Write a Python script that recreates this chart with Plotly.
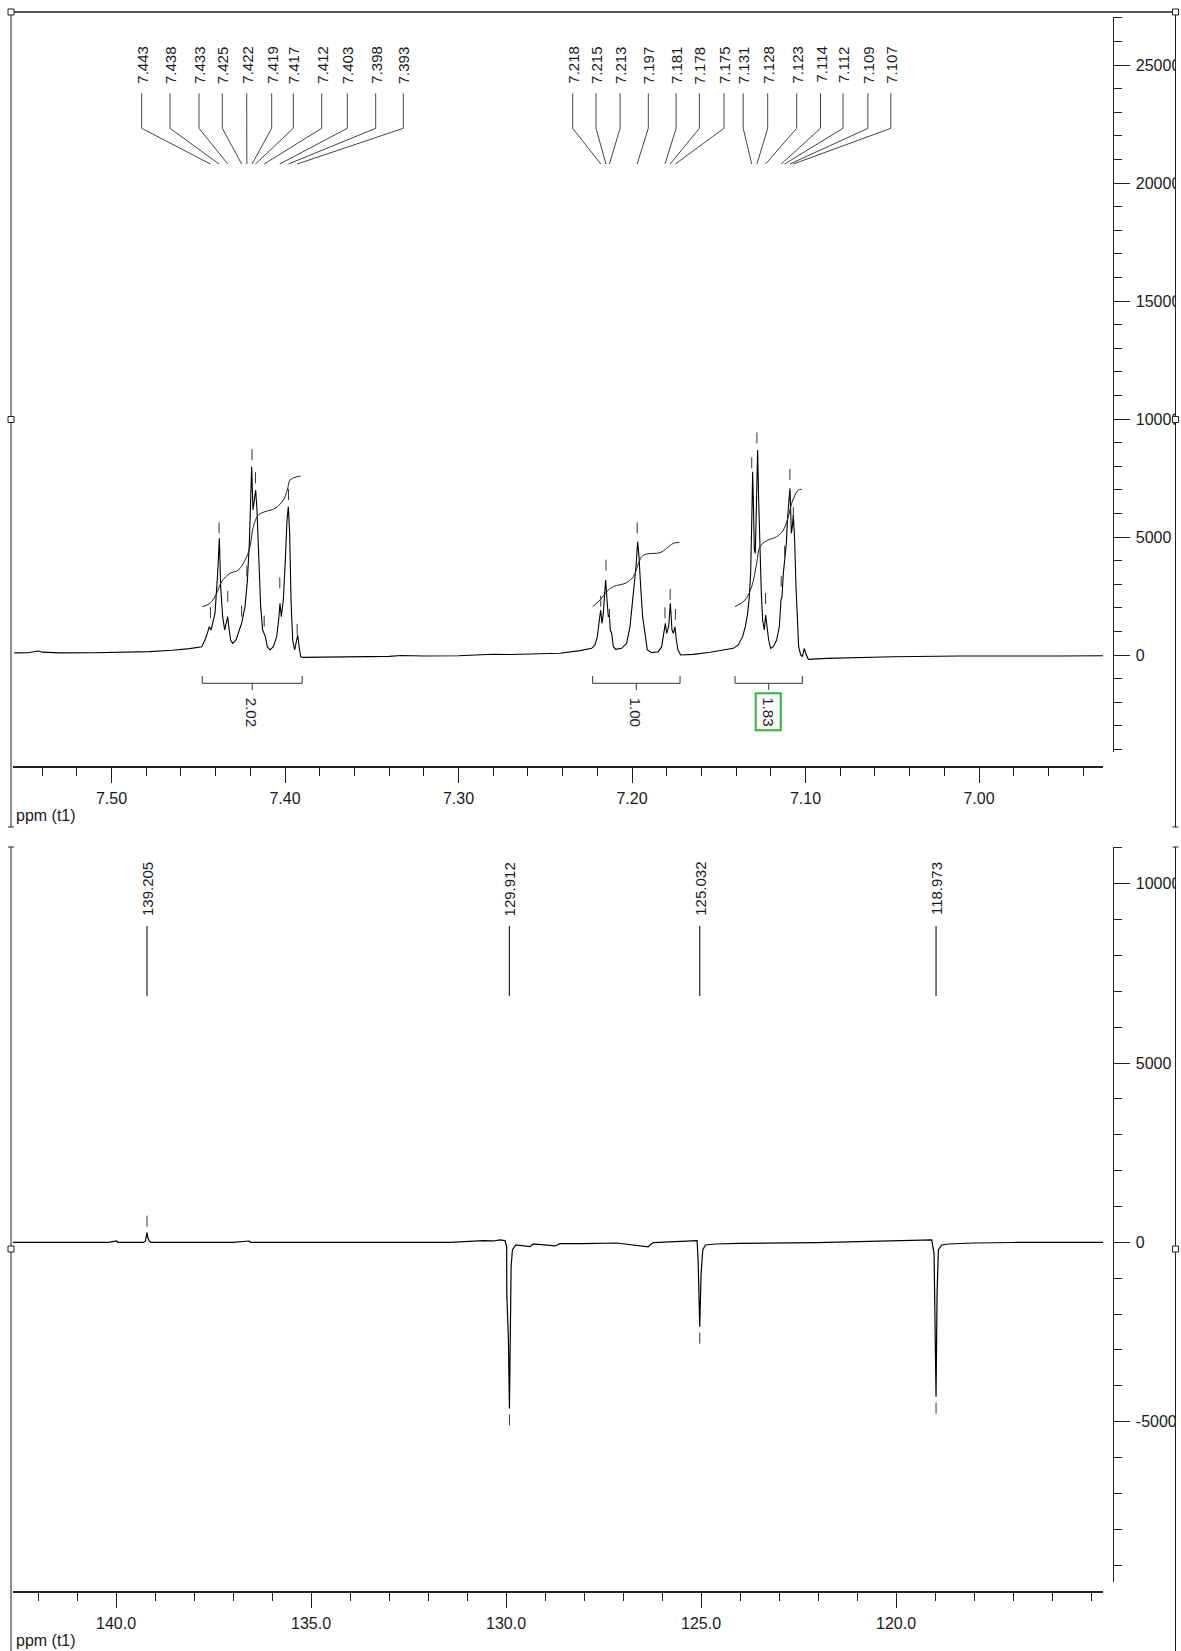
import plotly.graph_objects as go

W, H = 1181, 1651

# ------------------------------------------------------------------ data
# 1H spectrum (ppm, intensity)
h1_ppm = [7.5560, 7.5480, 7.5440, 7.5420, 7.5400, 7.5300, 7.5100, 7.4900, 7.4778, 7.4650, 7.4550, 7.4480,
          7.44611, 7.44477, 7.44361, 7.44265, 7.44035, 7.43881, 7.43785, 7.43708, 7.43593, 7.43478, 7.43362,
          7.43305, 7.43228, 7.43132, 7.43016, 7.42824, 7.42632, 7.42498, 7.42306, 7.42171, 7.42056, 7.41979,
          7.41921, 7.41845, 7.41768, 7.41691, 7.41614, 7.41518, 7.41403, 7.41287, 7.41230, 7.41134, 7.41018,
          7.40865, 7.40673, 7.40480, 7.40365, 7.40288, 7.40211, 7.40096, 7.39981, 7.39885, 7.39808, 7.39731,
          7.39654, 7.39558, 7.39443, 7.39328, 7.39270, 7.39174, 7.39097, 7.38982,
          7.3800, 7.3600, 7.3400, 7.3330, 7.3200, 7.3000, 7.2800, 7.2700, 7.2600, 7.2500, 7.2415,
          7.22997, 7.22325, 7.22133, 7.21998, 7.21883, 7.21806, 7.21729, 7.21652, 7.21576, 7.21518, 7.21441,
          7.21364, 7.21307, 7.21249, 7.21172, 7.21076, 7.20942, 7.20596, 7.20308, 7.20116, 7.20000, 7.19885,
          7.19770, 7.19674, 7.19597, 7.19501, 7.19386, 7.19251, 7.19117, 7.18867, 7.18483, 7.18290, 7.18156,
          7.18079, 7.18002, 7.17887, 7.17791, 7.17695, 7.17618, 7.17522, 7.17445, 7.17349, 7.17195,
          7.16465, 7.15505, 7.14544, 7.14160,
          7.13872, 7.13622, 7.13468, 7.13334, 7.13238, 7.13161, 7.13084, 7.13046, 7.13007, 7.12950, 7.12892,
          7.12815, 7.12758, 7.12700, 7.12623, 7.12546, 7.12469, 7.12373, 7.12297, 7.12220, 7.12124, 7.12009,
          7.11855, 7.11663, 7.11509, 7.11413, 7.11355, 7.11278, 7.11201, 7.11105, 7.11029, 7.10932, 7.10894,
          7.10817, 7.10759, 7.10702, 7.10625, 7.10548, 7.10471, 7.10394, 7.10279, 7.10183, 7.10068, 7.09991,
          7.09837, 7.0879, 7.0495, 7.0111, 6.9535, 6.9285]
h1_int = [90, 95, 150, 170, 120, 90, 95, 110, 141, 200, 270, 353,
          635, 918, 1200, 1059, 1765, 3460, 4943, 2895, 1624, 1059, 1412,
          1624, 1130, 635, 494, 635, 1059, 1342, 2048, 3107, 4731, 6567,
          7979, 6143, 6567, 6991, 6143, 4025, 2048, 1059, 918, 777, 353,
          212, 353, 777, 1483, 2189, 1624, 2330, 4025, 5720, 6285, 5155,
          2330, 635, 212, 635, 847, 282, -71, -99,
          -90, -70, -60, -20, -40, -30, 30, 20, 40, 60, 71,
          184, 282, 424, 777, 1483, 1907, 1342, 1765, 2612, 3178, 2330,
          1624, 1695, 1059, 918, 353, 240, 282, 494, 1200, 2048, 2895,
          3742, 4802, 4166, 2895, 1624, 918, 212, 99, 141, 353, 918,
          1342, 918, 1200, 2189, 1059, 918, 1200, 635, 212, 0,
          28, 113, 212, 282,
          424, 777, 1200, 1765, 2471, 3460, 6143, 7768, 6567, 4449, 4307,
          6567, 8686, 6567, 4307, 2612, 1483, 1059, 1695, 1200, 635, 282,
          353, 635, 1200, 2330, 2471, 3460, 4025, 4731, 5861, 6567, 7061,
          5155, 5437, 5932, 4873, 2895, 1200, 353, 0, -71, 282, 71,
          -184, -141, -71, -42, -42, -30]

# integral curves
integ1_ppm = [7.44765, 7.44323, 7.43939, 7.43650, 7.43170, 7.42690, 7.42210, 7.42017, 7.41825,
              7.41537, 7.41153, 7.40576, 7.40096, 7.39866, 7.39712, 7.39424, 7.39097]
integ1_val = [2048, 2189, 2612, 3107, 3460, 3601, 4166, 4590, 5437, 5932, 6073, 6214, 6567, 6991,
              7414, 7527, 7584]
integ2_ppm = [7.22267, 7.21845, 7.21460, 7.21076, 7.20308, 7.19923, 7.19693, 7.19443, 7.19155,
              7.18386, 7.18002, 7.17618, 7.17272]
integ2_val = [2048, 2330, 2683, 2895, 3065, 3319, 3742, 4166, 4279, 4336, 4519, 4731, 4774]
integ3_ppm = [7.14064, 7.13487, 7.13103, 7.12815, 7.12623, 7.12238, 7.11662, 7.11278, 7.10990,
              7.10798, 7.10606, 7.10414, 7.10222]
integ3_val = [2048, 2330, 2895, 3884, 4590, 4844, 5014, 5296, 5861, 6426, 6779, 6991, 7019]

integral_start = [7.4477, 7.2227, 7.1406]
integral_end = [7.3901, 7.1723, 7.1018]
integral_values = ["2.02", "1.00", "1.83"]

# picked 1H peaks
h1_peak_ppm = [7.443, 7.438, 7.433, 7.425, 7.422, 7.419, 7.417, 7.412, 7.403, 7.398, 7.393,
               7.218, 7.215, 7.213, 7.197, 7.181, 7.178, 7.175,
               7.131, 7.128, 7.123, 7.114, 7.112, 7.109, 7.107]
h1_peak_int = [1300, 4900, 2000, 1370, 3065, 8000, 7020, 950, 2570, 6310, 600,
               1790, 3320, 1230, 4900, 1300, 2075, 1230,
               7655, 8714, 1907, 2640, 3912, 7160, 5536]
h1_peak_labels = ["7.443", "7.438", "7.433", "7.425", "7.422", "7.419", "7.417", "7.412", "7.403",
                  "7.398", "7.393", "7.218", "7.215", "7.213", "7.197", "7.181", "7.178", "7.175",
                  "7.131", "7.128", "7.123", "7.114", "7.112", "7.109", "7.107"]

# 13C (DEPT-like) spectrum
c13_ppm = [142.64, 140.2, 139.98, 139.95, 139.6, 139.30, 139.245, 139.225, 139.205, 139.18, 139.15,
           139.10, 137.0, 136.58, 136.55, 131.436, 130.838, 130.581, 130.325, 130.154, 130.026,
           129.983, 129.980, 129.938, 129.912, 129.895, 129.869, 129.835, 129.749, 129.384, 129.299,
           128.743, 128.615, 128.017, 127.162, 126.350, 126.308, 126.222, 125.154, 125.100, 125.074,
           125.048, 125.032, 125.015, 124.998, 124.955, 124.887, 124.630, 124.032, 122.034, 119.128,
           119.084, 119.024, 118.999, 118.973, 118.947, 118.913, 118.828, 118.657, 118.0, 117.0, 114.69]
c13_int = [0, 0, 36, 0, 0, 0, 30, 120, 268, 120, 40,
           0, 0, 36, 0, 0, 37, 46, 37, 65, 46,
           -122, -1424, -2725, -4632, -2447, -680, -215, -75, -122, -47,
           -102, -37, -37, -19, -130, -75, -9, 46, 46, -493,
           -1610, -2354, -1610, -866, -215, -75, -47, -29, -9, 46,
           65, -307, -2260, -4307, -1424, -215, -75, -47, -20, -5, 0]

c13_peak_ppm = [139.205, 129.912, 125.032, 118.973]
c13_peak_int = [268, -4632, -2354, -4307]
c13_peak_labels = ["139.205", "129.912", "125.032", "118.973"]

# axis ticks
h1_xtick_vals = [7.50, 7.40, 7.30, 7.20, 7.10, 7.00]
h1_xtick_text = ["7.50", "7.40", "7.30", "7.20", "7.10", "7.00"]
h1_ytick_vals = [0, 5000, 10000, 15000, 20000, 25000]
h1_ytick_text = ["0", "5000", "10000", "15000", "20000", "25000"]
c13_xtick_vals = [140.0, 135.0, 130.0, 125.0, 120.0]
c13_xtick_text = ["140.0", "135.0", "130.0", "125.0", "120.0"]
c13_ytick_vals = [-5000, 0, 5000, 10000]
c13_ytick_text = ["-5000", "0", "5000", "10000"]

# ------------------------------------------------------------------ layout geometry (pixels)
X_PX = (13, 1103)
TOP_YPX = (752, 17)
BOT_YPX = (1582, 847)
TOP_XR = (7.50 + (111.5 - 13) / 1735, 7.50 - (1103 - 111.5) / 1735)
TOP_YR = ((655 - 752) / 0.0236, (655 - 17) / 0.0236)
BOT_XR = (140 + (116 - 13) / 39, 120 - (1103 - 896) / 39)
BOT_YR = ((1242.3 - 1582) / 0.03586, (1242.3 - 847) / 0.03586)
TOP_XAXIS_PX = 767.3
BOT_XAXIS_PX = 1592.3
YAXIS_PX = 1112.6
FRAME_R = 1175.5
FRAME_L = 11
LABEL_PX = [141.7, 170, 199, 222.3, 246.7, 271.7, 293.3, 321.7, 347.3, 375.7, 403.3,
            572.7, 596, 620.1, 648.3, 676.1, 699.4, 724,
            743.2, 767.7, 796.7, 820.5, 843, 867.9, 890.8]

FONT = "Liberation Sans, Arial, sans-serif"
INK = "#1a1a1a"


def lin(v, a0, a1, b0, b1):
    return b0 + (v - a0) / (a1 - a0) * (b1 - b0)


def top_x(px):
    return lin(px, X_PX[0], X_PX[1], TOP_XR[0], TOP_XR[1])


def top_xpx(ppm):
    return lin(ppm, TOP_XR[0], TOP_XR[1], X_PX[0], X_PX[1])


def top_y(py):
    return lin(py, TOP_YPX[0], TOP_YPX[1], TOP_YR[0], TOP_YR[1])


def bot_y(py):
    return lin(py, BOT_YPX[0], BOT_YPX[1], BOT_YR[0], BOT_YR[1])


TOP_UNIT_PX = (TOP_YPX[0] - TOP_YPX[1]) / (TOP_YR[1] - TOP_YR[0])
BOT_UNIT_PX = (BOT_YPX[0] - BOT_YPX[1]) / (BOT_YR[1] - BOT_YR[0])

fig = go.Figure()

line_kw = dict(mode="lines", hoverinfo="skip", showlegend=False)

# 1H spectrum
fig.add_trace(go.Scatter(x=h1_ppm, y=h1_int, line=dict(color="#000", width=1.1), xaxis="x", yaxis="y", **line_kw))
# integral curves
for xs, ys in [(integ1_ppm, integ1_val), (integ2_ppm, integ2_val), (integ3_ppm, integ3_val)]:
    fig.add_trace(go.Scatter(x=xs, y=ys, line=dict(color="#222", width=1, shape="spline"), xaxis="x", yaxis="y", **line_kw))

# peak markers (short ticks above peaks)
mx, my = [], []
for p, h in zip(h1_peak_ppm, h1_peak_int):
    mx += [p, p, None]
    my += [h + 6 / TOP_UNIT_PX, h + 17 / TOP_UNIT_PX, None]
fig.add_trace(go.Scatter(x=mx, y=my, line=dict(color="#333", width=1), xaxis="x", yaxis="y", **line_kw))

# leader lines from labels to peaks
lx, ly = [], []
for lp, p in zip(LABEL_PX, h1_peak_ppm):
    xl = top_x(lp)
    lx += [xl, xl, p, None]
    ly += [top_y(93.3), top_y(128.3), top_y(164), None]
fig.add_trace(go.Scatter(x=lx, y=ly, line=dict(color="#444", width=1), xaxis="x", yaxis="y", **line_kw))

# integral brackets
bx, by = [], []
for a, b in zip(integral_start, integral_end):
    c = (a + b) / 2
    bx += [a, a, b, b, None, c, c, None]
    by += [top_y(676), top_y(683.3), top_y(683.3), top_y(676), None, top_y(683.3), top_y(690), None]
fig.add_trace(go.Scatter(x=bx, y=by, line=dict(color="#333", width=1), xaxis="x", yaxis="y", **line_kw))

# 13C spectrum
fig.add_trace(go.Scatter(x=c13_ppm, y=c13_int, line=dict(color="#000", width=1.2), xaxis="x2", yaxis="y2", **line_kw))
cx, cy = [], []
for p, h in zip(c13_peak_ppm, c13_peak_int):
    s = 1 if h > 0 else -1
    cx += [p, p, None]
    cy += [h + s * 6 / BOT_UNIT_PX, h + s * 17 / BOT_UNIT_PX, None]
fig.add_trace(go.Scatter(x=cx, y=cy, line=dict(color="#333", width=1), xaxis="x2", yaxis="y2", **line_kw))
# 13C label lines
clx, cly = [], []
for p in c13_peak_ppm:
    clx += [p, p, None]
    cly += [bot_y(926), bot_y(996), None]
fig.add_trace(go.Scatter(x=clx, y=cly, line=dict(color="#222", width=1.2), xaxis="x2", yaxis="y2", **line_kw))

annotations = []
for lp, t in zip(LABEL_PX, h1_peak_labels):
    annotations.append(dict(x=lp / W, y=1 - 65 / H, xref="paper", yref="paper", text=t, showarrow=False,
                            textangle=-90, font=dict(family=FONT, size=15, color=INK),
                            xanchor="center", yanchor="middle"))
for a, b, t in zip(integral_start, integral_end, integral_values):
    cpx = top_xpx((a + b) / 2)
    ann = dict(x=cpx / W, y=1 - 712 / H, xref="paper", yref="paper", text=t, showarrow=False,
               textangle=90, font=dict(family=FONT, size=15, color=INK), xanchor="center", yanchor="middle")
    if t == "1.83":
        ann.update(bordercolor="#2db52d", borderwidth=2, borderpad=3)
    annotations.append(ann)
for p, t in zip(c13_peak_ppm, c13_peak_labels):
    xp = lin(p, BOT_XR[0], BOT_XR[1], X_PX[0], X_PX[1])
    annotations.append(dict(x=xp / W, y=1 - 889 / H, xref="paper", yref="paper", text=t, showarrow=False,
                            textangle=-90, font=dict(family=FONT, size=15, color=INK),
                            xanchor="center", yanchor="middle"))
for yy in (815.5, 1640):
    annotations.append(dict(x=15 / W, y=1 - yy / H, xref="paper", yref="paper", text="ppm (t1)",
                            showarrow=False, font=dict(family=FONT, size=16, color=INK),
                            xanchor="left", yanchor="middle", borderpad=0))

ax_common = dict(showgrid=False, zeroline=False, showline=True, linecolor="#222", ticks="outside",
                 tickcolor="#222", tickwidth=1, tickfont=dict(family=FONT, size=16, color=INK))
yfont = dict(family=FONT, size=16, color=INK)

fig.update_layout(
    width=W, height=H, margin=dict(l=0, r=0, t=0, b=0),
    paper_bgcolor="white", plot_bgcolor="white",
    xaxis=dict(domain=[X_PX[0] / W, X_PX[1] / W], range=list(TOP_XR), anchor="free",
               position=1 - TOP_XAXIS_PX / H, tickmode="array", tickvals=h1_xtick_vals,
               ticktext=h1_xtick_text, ticklen=15, linewidth=2, ticklabelstandoff=1,
               minor=dict(tickmode="linear", tick0=7.0, dtick=0.02, ticklen=8, ticks="outside",
                          tickcolor="#222", tickwidth=1), **ax_common),
    yaxis=dict(domain=[1 - TOP_YPX[0] / H, 1 - TOP_YPX[1] / H], range=list(TOP_YR), anchor="free",
               position=YAXIS_PX / W, side="right", tickmode="array", tickvals=h1_ytick_vals,
               ticktext=h1_ytick_text, ticklen=16, linewidth=1, ticklabelstandoff=3,
               minor=dict(tickmode="linear", tick0=0, dtick=1000, ticklen=8, ticks="outside",
                          tickcolor="#222", tickwidth=1),
               **{**ax_common, "tickfont": yfont}),
    xaxis2=dict(domain=[X_PX[0] / W, X_PX[1] / W], range=list(BOT_XR), anchor="free",
                position=1 - BOT_XAXIS_PX / H, tickmode="array", tickvals=c13_xtick_vals,
                ticktext=c13_xtick_text, ticklen=15, linewidth=2, ticklabelstandoff=1,
                minor=dict(tickmode="linear", tick0=0, dtick=1.0, ticklen=8, ticks="outside",
                           tickcolor="#222", tickwidth=1), **ax_common),
    yaxis2=dict(domain=[1 - BOT_YPX[0] / H, 1 - BOT_YPX[1] / H], range=list(BOT_YR), anchor="free",
                position=YAXIS_PX / W, side="right", tickmode="array", tickvals=c13_ytick_vals,
                ticktext=c13_ytick_text, ticklen=16, linewidth=1, ticklabelstandoff=3,
                minor=dict(tickmode="linear", tick0=0, dtick=1000, ticklen=8, ticks="outside",
                           tickcolor="#222", tickwidth=1),
                **{**ax_common, "tickfont": yfont}),
    annotations=annotations,
)


def pxs(x0, y0, x1, y1, **kw):
    d = dict(type="line", xref="paper", yref="paper", x0=x0 / W, x1=x1 / W, y0=1 - y0 / H, y1=1 - y1 / H,
             line=dict(color="#222", width=1), layer="above")
    d.update(kw)
    return d


shapes = [
    # clip tick labels at the outer frame
    dict(type="rect", xref="paper", yref="paper", x0=(FRAME_R + 0.5) / W, x1=1, y0=0, y1=1,
         fillcolor="white", line=dict(width=0), layer="above"),
    pxs(FRAME_L, 12, FRAME_R, 12, line=dict(color="#222", width=1.5)),
    pxs(FRAME_L, 12, FRAME_L, 827),
    pxs(FRAME_R, 12, FRAME_R, 827),
    pxs(FRAME_L, 847, FRAME_L, 1651),
    pxs(FRAME_R, 847, FRAME_R, 1651),
    pxs(FRAME_L - 3, 827, FRAME_L + 3, 827),
    pxs(FRAME_R - 3, 827, FRAME_R + 3, 827),
    pxs(FRAME_L - 3, 847, FRAME_L + 3, 847),
    pxs(FRAME_R - 3, 847, FRAME_R + 3, 847),
]
for cy in (419.5, 1249):
    for cxp in (FRAME_L, FRAME_R):
        shapes.append(dict(type="rect", xref="paper", yref="paper", x0=(cxp - 3) / W, x1=(cxp + 3) / W,
                           y0=1 - (cy + 3) / H, y1=1 - (cy - 3) / H, fillcolor="white",
                           line=dict(color="#222", width=1), layer="above"))
for cxp in (FRAME_L, FRAME_R):
    shapes.append(dict(type="rect", xref="paper", yref="paper", x0=(cxp - 3) / W, x1=(cxp + 3) / W,
                       y0=1 - 15 / H, y1=1 - 9 / H, fillcolor="white",
                       line=dict(color="#222", width=1), layer="above"))
fig.update_layout(shapes=shapes)

fig.write_html("out.html", config={"displayModeBar": False},
               post_script="document.body.style.margin='0';document.body.style.padding='0';")
